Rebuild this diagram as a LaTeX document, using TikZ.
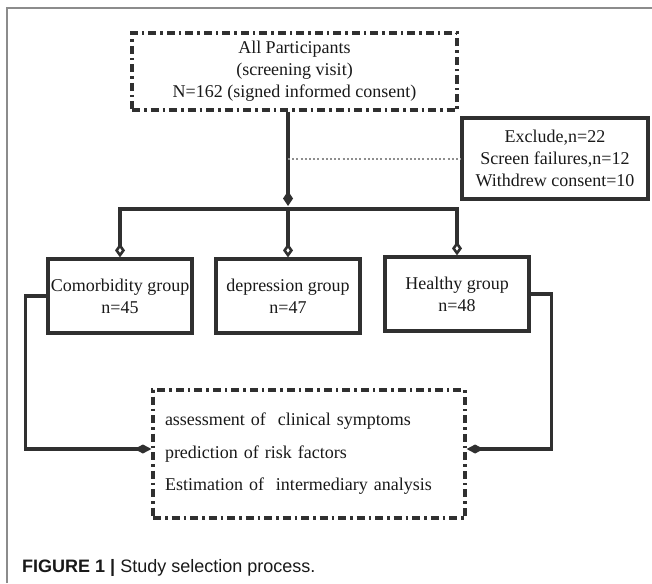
\documentclass[tikz,border=0pt]{standalone}
\usepackage{fontspec}
\setmainfont{Liberation Serif}
\newfontfamily\capfont{Liberation Sans}
\usetikzlibrary{arrows.meta}
\definecolor{ink}{HTML}{303030}
\definecolor{framegray}{HTML}{8C8C8C}
\definecolor{dotgray}{HTML}{8E8E8E}
\tikzset{
  txt/.style={font=\fontsize{18}{22}\selectfont, text=black!90},
  solidbox/.style={draw=ink, line width=3.2pt, txt, align=center, inner sep=0pt},
  dashbox/.style={draw=ink, line width=3.2pt, dash pattern=on 8pt off 4pt on 2.5pt off 4pt, txt, inner sep=0pt},
  conn/.style={draw=ink, line width=3.2pt},
  opendia/.style={conn, -{Diamond[open, length=14pt, width=10pt, line width=2.6pt]}},
  filldia/.style={conn, -{Diamond[length=15pt, width=10pt]}},
  sidedia/.style={conn, -{Diamond[length=17pt, width=9pt]}},
}
\begin{document}
\begin{tikzpicture}[x=1pt,y=-1pt]
\useasboundingbox (0,0) rectangle (652,583);
\draw[framegray, line width=1.5pt] (7,583) -- (7,8) -- (652,8);

\node[dashbox, align=center, minimum width=325pt, minimum height=77pt] (top) at (294.5,71.5)
  {All Participants\\(screening visit)\\N=162 (signed informed consent)};
\node[solidbox, minimum width=186pt, minimum height=81pt] (excl) at (555,158.5)
  {Exclude,n=22\\Screen failures,n=12\\Withdrew consent=10};

\node[solidbox, minimum width=144pt, minimum height=74pt] (comorb) at (120,296)
  {Comorbidity group\\n=45};
\node[solidbox, minimum width=144pt, minimum height=74pt] (dep) at (288,296)
  {depression group\\n=47};
\node[solidbox, minimum width=144pt, minimum height=74pt] (healthy) at (457,294)
  {Healthy group\\n=48};

\node[dashbox, font=\fontsize{18}{32.5}\selectfont, align=left, text width=288pt,
      inner xsep=12pt, minimum height=128pt] (bot) at (309,454)
  {assessment of~ clinical symptoms\\prediction of risk factors\\Estimation of~ intermediary analysis};

\coordinate (j) at (288,209);
\draw[filldia, shorten >=3pt] (top.south -| j) -- (j);
\draw[dotgray, line width=2pt, dash pattern=on 2pt off 2.2pt] (j |- excl.west) -- (excl.west);
\draw[opendia] (j) -| (comorb.north);
\draw[opendia] (j) -- (dep.north);
\draw[opendia] (j) -| (healthy.north);

\draw[sidedia] (comorb.west) -- ++(-21,0) |- ([yshift=5pt]bot.west);
\draw[sidedia] (healthy.east) -- ++(21,0) |- ([yshift=5pt]bot.east);

\node[anchor=west, font=\capfont\fontsize{18}{22}\selectfont, text=black!90, inner sep=0pt] (cap) at (22,568)
  {\textbf{FIGURE 1 |} Study selection process.};
\end{tikzpicture}
\end{document}
